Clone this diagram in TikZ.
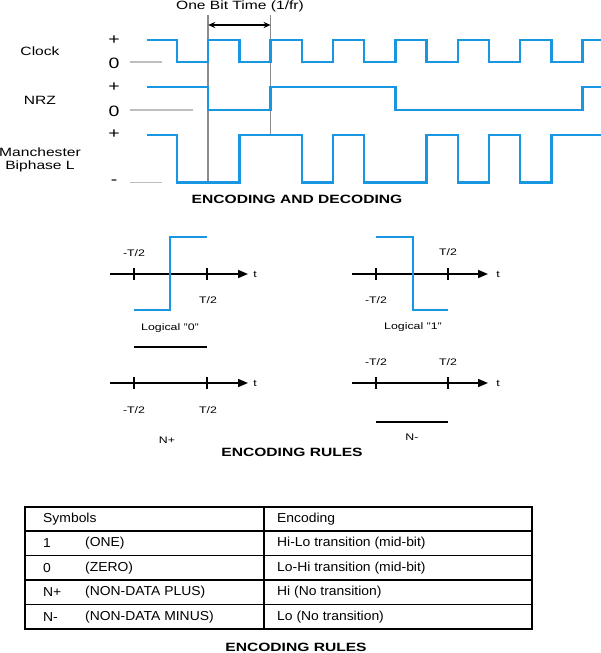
\documentclass[tikz,border=0pt]{standalone}
\usepackage{fontspec}
\setmainfont{Liberation Sans}[FakeStretch=1.3]
\newfontfamily\tabfont{Liberation Sans}[FakeStretch=1.07]
\usetikzlibrary{arrows.meta}
\definecolor{wblue}{RGB}{24,150,226}
\definecolor{lgrey}{RGB}{190,190,190}
\definecolor{dgrey}{RGB}{140,140,140}
\tikzset{
  lbl/.style={font=\fontsize{12}{14}\selectfont, inner sep=0pt},
  tab/.style={font=\tabfont\fontsize{13}{15}\selectfont, inner sep=0pt, anchor=west},
  sml/.style={font=\fontsize{9.5}{11}\selectfont, inner sep=0pt},
  sgn/.style={font=\fontsize{15}{17}\selectfont, inner sep=0pt},
  ttl/.style={font=\bfseries\fontsize{12}{14}\selectfont, inner sep=0pt},
  wave/.style={draw=wblue, line width=2.5pt},
  lvl/.style={draw=lgrey, line width=1.3pt},
  bitline/.style={draw=dgrey, line width=1.5pt},
  axis/.style={draw=black, line width=1.5pt, -{Triangle[length=10pt,width=8pt]}},
  tick/.style={draw=black, line width=1.5pt},
  tline/.style={draw=black, line width=1.2pt},
}
\begin{document}
\begin{tikzpicture}[x=1pt,y=-1pt]
\useasboundingbox (0,0) rectangle (600,653);
% ---------- top: encoding and decoding ----------
\node[lbl] (tbit) at (240,6.5) {One Bit Time (1/fr)};
\node[lbl] (lclock) at (40,51) {Clock};
\node[lbl] (lnrz) at (40,100) {NRZ};
\node[lbl] (lman1) at (40,152) {Manchester};
\node[lbl] (lman2) at (40,166) {Biphase L};
\node[sgn] (cp) at (114,40) {+};
\node[sgn] (c0) at (114,63) {0};
\node[sgn] (np) at (114,87) {+};
\node[sgn] (n0) at (114,111) {0};
\node[sgn] (mp) at (114,134) {+};
\node[sgn] (mm) at (114,182) {-};
% level guide lines
\draw[lvl] (130,62) -- (162,62);
\draw[lvl] (130,110) -- (193,110);
\draw[lvl] (130,182.5) -- (162,182.5);
% bit boundary lines
\draw[bitline] (208.2,15) -- (208.2,183);
\draw[bitline] (270.6,15) -- (270.6,135);
\coordinate (ba) at (208.2,25);
\coordinate (bb) at (270.6,25);
\draw[line width=1.2pt, {Stealth[length=7pt,width=6pt]}-{Stealth[length=7pt,width=6pt]}] (ba) -- (bb);
% clock
\draw[wave] (147,40) foreach \k in {0,2,...,12} {
   -- ({177+31.2*\k},40) -- ({177+31.2*\k},62) -- ({177+31.2*(\k+1)},62) -- ({177+31.2*(\k+1)},40) } -- (601,40);
% NRZ
\draw[wave] (147,87) -- (208.2,87) -- (208.2,110) -- (270.6,110) -- (270.6,87) -- (395.4,87)
   -- (395.4,110) -- (582.6,110) -- (582.6,87) -- (601,87);
% Manchester
\draw[wave] (147,135) -- (177,135) -- (177,182.5) -- (239.4,182.5) -- (239.4,135) -- (301.8,135)
   -- (301.8,182.5) -- (333,182.5) -- (333,135) -- (364.2,135) -- (364.2,182.5) -- (426.6,182.5)
   -- (426.6,135) -- (457.8,135) -- (457.8,182.5) -- (489,182.5) -- (489,135) -- (520.2,135)
   -- (520.2,182.5) -- (551.4,182.5) -- (551.4,135) -- (601,135);
\node[ttl] (t1) at (297,199) {ENCODING AND DECODING};
% ---------- middle: encoding rules ----------
% logical 0
\coordinate (a0s) at (110,274); \coordinate (a0e) at (248,274);
\draw[axis] (a0s) -- (a0e);
\draw[tick] (134,268) -- (134,280);
\draw[tick] (207,268) -- (207,280);
\draw[wave, line width=2.2pt] (134,310) -- (170,310) -- (170,237) -- (207,237);
\node[sml] (l0a) at (134,253) {-T/2};
\node[sml] (l0b) at (208,300) {T/2};
\node[sml] (l0t) at (255,274) {t};
\node[sml] (l0n) at (170,328) {Logical "0"};
\draw[tline] (134,347) -- (207,347);
% logical 1
\coordinate (a1s) at (352,274); \coordinate (a1e) at (488,274);
\draw[axis] (a1s) -- (a1e);
\draw[tick] (376,268) -- (376,280);
\draw[tick] (448,268) -- (448,280);
\draw[wave, line width=2.2pt] (376,237) -- (413,237) -- (413,310) -- (448,310);
\node[sml] (l1a) at (376,300) {-T/2};
\node[sml] (l1b) at (448,252) {T/2};
\node[sml] (l1t) at (498,274) {t};
\node[sml] (l1n) at (413,327) {Logical "1"};
% N+
\coordinate (aps) at (110,383); \coordinate (ape) at (248,383);
\draw[axis] (aps) -- (ape);
\draw[tick] (134,377) -- (134,389);
\draw[tick] (207,377) -- (207,389);
\node[sml] (lpa) at (134,410) {-T/2};
\node[sml] (lpb) at (208,410) {T/2};
\node[sml] (lpt) at (255,383) {t};
\node[sml] (lpn) at (167,440) {N+};
% N-
\coordinate (ams) at (352,383); \coordinate (ame) at (488,383);
\draw[axis] (ams) -- (ame);
\draw[tick] (376,377) -- (376,389);
\draw[tick] (448,377) -- (448,389);
\node[sml] (lma) at (376,362) {-T/2};
\node[sml] (lmb) at (448,362) {T/2};
\node[sml] (lmt) at (498,383) {t};
\draw[tline] (376,422) -- (448,422);
\node[sml] (lmn) at (412,437) {N-};
\node[ttl] (t2) at (292,452) {ENCODING RULES};
% ---------- table ----------
\draw[line width=1.4pt] (25,507) rectangle (532,629);
\draw[tline] (264,507) -- (264,629);
\foreach \yy in {531,555.5,580,604.5} \draw[tline] (25,\yy) -- (532,\yy);
\node[tab] (h1) at (43,519.5) {Symbols};
\node[tab] (h2) at (277,519.5) {Encoding};
\node[tab] (r1a) at (43,543.5) {1};
\node[tab] (r1b) at (85,543.5) {(ONE)};
\node[tab] (r1c) at (277,543.5) {Hi-Lo transition (mid-bit)};
\node[tab] (r2a) at (43,568) {0};
\node[tab] (r2b) at (85,568) {(ZERO)};
\node[tab] (r2c) at (277,568) {Lo-Hi transition (mid-bit)};
\node[tab] (r3a) at (43,592.5) {N+};
\node[tab] (r3b) at (85,592.5) {(NON-DATA PLUS)};
\node[tab] (r3c) at (277,592.5) {Hi (No transition)};
\node[tab] (r4a) at (43,617) {N-};
\node[tab] (r4b) at (85,617) {(NON-DATA MINUS)};
\node[tab] (r4c) at (277,617) {Lo (No transition)};
\node[ttl] (t3) at (296,647) {ENCODING RULES};
\end{tikzpicture}
\end{document}
